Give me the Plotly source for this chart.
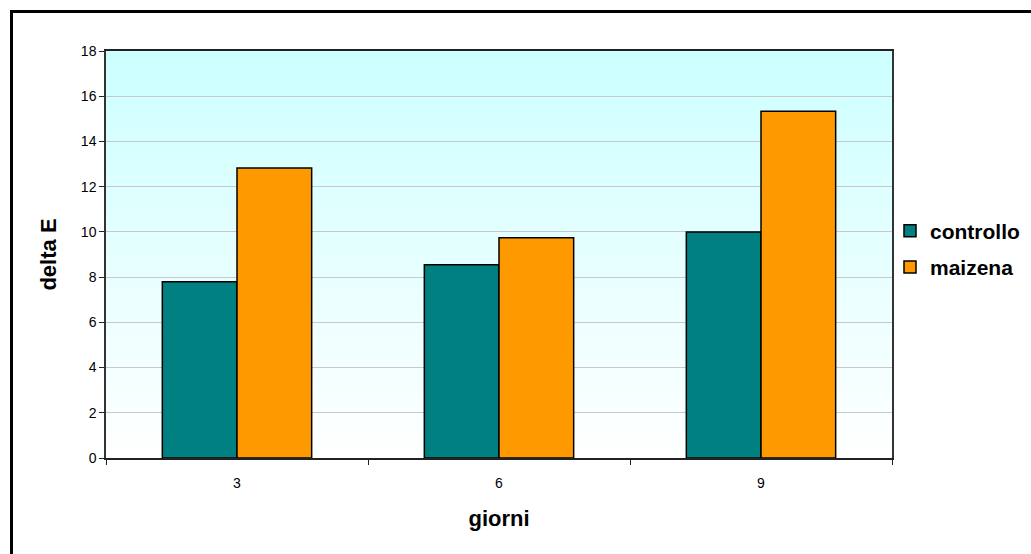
import plotly.graph_objects as go

categories = ["3", "6", "9"]
controllo = [7.8, 8.55, 10.0]
maizena = [12.83, 9.74, 15.34]
y_ticks = [0, 2, 4, 6, 8, 10, 12, 14, 16, 18]

W, H = 1031, 554
L, R, T, B = 106, 139, 51, 96
pw, ph = W - L - R, H - T - B

FONT = "Liberation Sans, Arial, sans-serif"

fig = go.Figure()
fig.add_trace(go.Bar(name="controllo", x=categories, y=controllo, legendgroup="a",
                     marker=dict(color="#008080", line=dict(color="#000000", width=1.5))))
fig.add_trace(go.Bar(name="maizena", x=categories, y=maizena, legendgroup="b",
                     marker=dict(color="#FF9900", line=dict(color="#000000", width=1.5))))

# gradient background of plot area (cyan at top to white at bottom)
shapes = []
n = 80
top = (204, 255, 255)
bot = (255, 255, 255)
for i in range(n):
    f = (i + 0.5) / n
    c = tuple(round(bot[k] + (top[k] - bot[k]) * f) for k in range(3))
    shapes.append(dict(type="rect", xref="paper", yref="paper",
                       x0=0, x1=1, y0=i / n, y1=(i + 1) / n + 0.002,
                       fillcolor="rgb(%d,%d,%d)" % c, line=dict(width=0),
                       layer="below"))

# outer chart frame
px = lambda v: (v - L) / pw
py = lambda v: (H - B - v) / ph
shapes.append(dict(type="rect", xref="paper", yref="paper",
                   x0=px(11.5), x1=px(W + 20), y0=py(H + 20), y1=py(11.5),
                   line=dict(color="#000000", width=3), fillcolor="rgba(0,0,0,0)",
                   layer="above"))

fig.update_layout(
    width=W, height=H,
    margin=dict(l=L, r=R, t=T, b=B, autoexpand=False),
    paper_bgcolor="#FFFFFF",
    plot_bgcolor="rgba(0,0,0,0)",
    barmode="group",
    bargap=0.43,
    bargroupgap=0,
    shapes=shapes,
    font=dict(family=FONT, color="#000000"),
    legend=dict(x=px(890), xanchor="left", y=py(249), yanchor="middle",
                font=dict(family=FONT, size=21, color="#000000", weight="bold"),
                itemwidth=30, bgcolor="rgba(0,0,0,0)",
                traceorder="grouped", tracegroupgap=6),
    xaxis=dict(
        type="category",
        title=dict(text="giorni", font=dict(family=FONT, size=22, weight="bold"), standoff=21),
        tickson="boundaries", ticks="outside", ticklen=5, tickcolor="#222222",
        tickfont=dict(family=FONT, size=14, color="#000000"),
        showline=True, linecolor="#222222", linewidth=1.5, mirror=True,
        showgrid=False, ticklabelstandoff=11,
    ),
    yaxis=dict(
        title=dict(text="delta E", font=dict(family=FONT, size=22, weight="bold"), standoff=18),
        range=[0, 18], tickvals=y_ticks, ticks="outside", ticklen=5, tickcolor="#222222",
        tickfont=dict(family=FONT, size=14, color="#000000"),
        showline=True, linecolor="#333333", linewidth=1.5, mirror=True,
        showgrid=True, gridcolor="#C8C8C8", gridwidth=1, zeroline=False,
    ),
)

fig.write_html("out.html", config={"displayModeBar": False},
               post_script="document.body.style.margin='0px';")
